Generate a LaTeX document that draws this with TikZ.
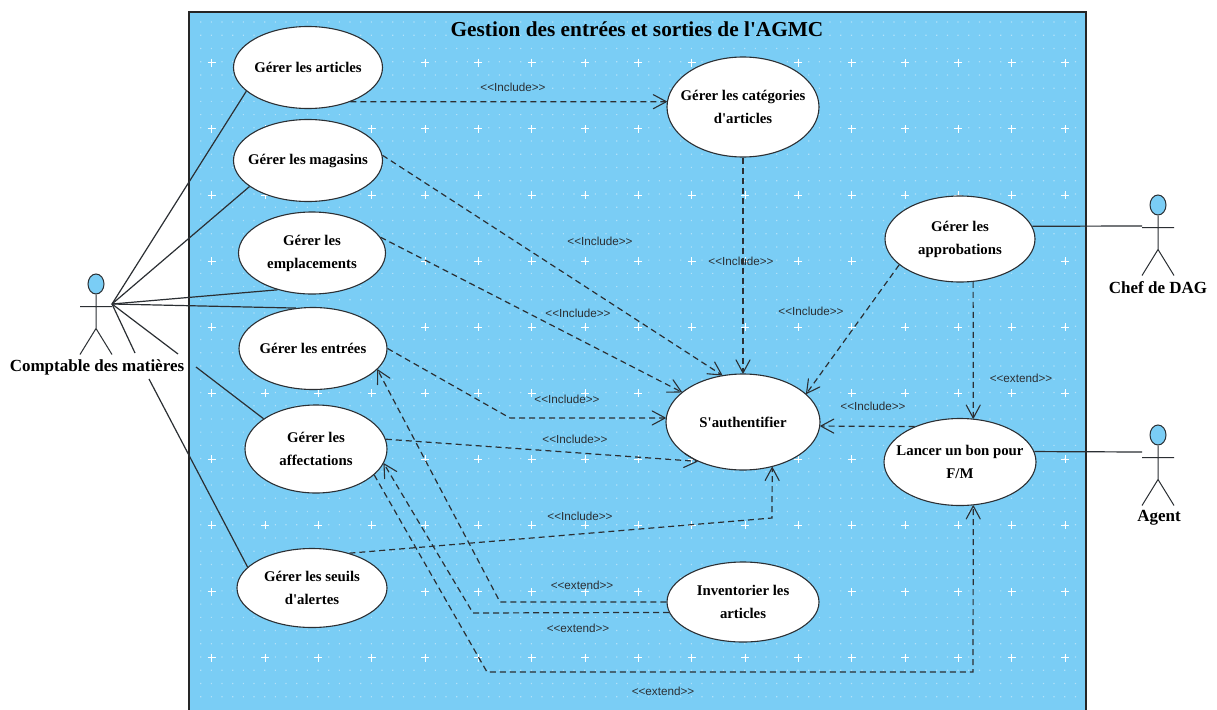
\documentclass[tikz,border=0pt]{standalone}
\usepackage{fontspec}
\newfontfamily\casefont{Liberation Serif}
\newfontfamily\stereofont{Liberation Sans}
\usetikzlibrary{shapes,arrows.meta}
\definecolor{panelblue}{HTML}{7ACDF5}
\definecolor{dotblue}{HTML}{B2E1F9}
\definecolor{traitgris}{HTML}{2B2F33}
\begin{document}
\begin{tikzpicture}[x=1pt,y=-1pt]
\tikzstyle{usecase}=[
  ellipse,
  draw=traitgris,
  fill=white,
  line width=1.1pt,
  align=center,
  inner xsep=-20pt,
  inner ysep=-4pt,
  font=\casefont\bfseries\fontsize{14.8}{23}\selectfont ]
\tikzstyle{acteur}=[font=\casefont\bfseries\fontsize{17}{18}\selectfont]
\tikzstyle{stereo}=[font=\stereofont\fontsize{11.7}{12}\selectfont,text=traitgris,inner sep=0pt]
\tikzstyle{assoc}=[traitgris,line width=1.2pt]
\tikzstyle{dep}=[traitgris,line width=1.2pt,dash pattern=on 6pt off 4pt,
  -{Straight Barb[length=13pt,width=14pt,line width=1.1pt,round]}]
\useasboundingbox (0,0) rectangle (1217,709);
% panel with its dots
\fill[white] (0,0) rectangle (1217,709);
\draw[fill=panelblue,draw=black!85,line width=1.2pt] (189,12) rectangle (1086,715);
\fill[dotblue] \foreach \i in {0,...,82}{\foreach \j in {0,...,51}{
  ({200.7+10.667*\i-0.6},{22+13.23*\j-0.6}) rectangle ++(1.2,1.2)}};
\foreach \i in {0,...,16}{\foreach \j in {0,...,9}{
  \draw[white,line width=.8pt] ({211.7+53.33*\i-4},{62.7+66.1*\j}) -- ++(8,0)
    ({211.7+53.33*\i},{62.7+66.1*\j-4}) -- ++(0,8);}}
\node[usecase,minimum width=149pt,minimum height=82pt] (articles) at (308,67.5) {G\'erer les articles};
\node[usecase,minimum width=149pt,minimum height=82pt] (magasins) at (308,160.5) {G\'erer les magasins};
\node[usecase,minimum width=147pt,minimum height=82pt] (emplacements) at (312,253) {G\'erer les\\emplacements};
\node[usecase,minimum width=148pt,minimum height=82pt] (entrees) at (313,348.5) {G\'erer les entr\'ees};
\node[usecase,minimum width=142pt,minimum height=88pt] (affectations) at (316,449) {G\'erer les\\affectations};
\node[usecase,minimum width=150pt,minimum height=79pt] (seuils) at (312,588) {G\'erer les seuils\\d'alertes};
\node[usecase,minimum width=152pt,minimum height=100pt] (categories) at (743,107) {G\'erer les cat\'egories\\d'articles};
\node[usecase,minimum width=154pt,minimum height=96pt] (auth) at (743,422) {S'authentifier};
\node[usecase,minimum width=150pt,minimum height=86pt] (approbations) at (960,239) {G\'erer les\\approbations};
\node[usecase,minimum width=152pt,minimum height=87pt] (lancer) at (960,462) {Lancer un bon pour\\F/M};
\node[usecase,minimum width=152pt,minimum height=80pt] (inventorier) at (743,602) {Inventorier les\\articles};
\node[inner sep=0pt,font=\casefont\bfseries\fontsize{21.3}{24}\selectfont] (titre) at (637,29.5) {Gestion des entr\'ees et sorties de l'AGMC};
% actors
\foreach \nom/\x/\y in {teteComptable/96/284,teteChef/1158/205,teteAgent/1158/435}{
  \node[ellipse,draw=traitgris,fill=panelblue,line width=1pt,minimum width=16pt,minimum height=20pt,inner sep=0pt] (\nom) at (\x,\y) {};
  \draw[traitgris,line width=1pt] (\nom.south) -- ++(0,34) ++(-16,-22) -- ++(32,0) ++(-16,22) -- ++(-16,26) ++(16,-26) -- ++(16,26);
}
\node[acteur,inner sep=0pt] (comptable) at (97,367) {Comptable des mati\`eres};
\node[acteur,inner sep=0pt] (chef) at (1158,288) {Chef de DAG};
\node[acteur,inner sep=0pt] (agent) at (1159,518) {Agent};
\coordinate (mainComptable) at (112,304);
\coordinate (mainChef) at (1142,226);
\coordinate (mainAgent) at (1142,452);
\coordinate (affectHaut) at (178,354);
\coordinate (affectBas) at (196,367);
\coordinate (seuilsHaut) at (135,353);
\coordinate (seuilsBas) at (149,379);
\draw[assoc] (mainComptable) -- (articles.201);
\draw[assoc] (mainComptable) -- (magasins.204);
\draw[assoc] (mainComptable) -- (emplacements.227);
\draw[assoc] (mainComptable) -- (entrees.113);
\draw[assoc] (mainComptable) -- (affectHaut) (affectBas) -- (affectations.150);
\draw[assoc] (mainComptable) -- (seuilsHaut) (seuilsBas) -- (seuils.162);
\draw[assoc] (approbations.10) -- (mainChef);
\draw[assoc] (lancer.8) -- (mainAgent);
% includes
\coordinate (coinEntrees) at (510,418);
\coordinate (coinSeuils) at (772,518);
\draw[dep] (articles.-39) -- (categories.176);
\draw[dep] (magasins.4) -- (auth.114);
\draw[dep] (emplacements.13) -- (auth.154);
\draw[dep] (entrees.east) -- (coinEntrees) -- (auth.177);
\draw[dep] (affectations.8) -- (auth.221);
\draw[dep] (seuils.43) -- (coinSeuils) -- (auth.-57);
\draw[dep] (categories.south) -- (auth.north);
\draw[dep] (approbations.203) -- (auth.24);
\draw[dep] (lancer.142) -- (auth.-3);
% extends
\coordinate (coinInvA) at (500,602);
\coordinate (coinInvB) at (473,613);
\coordinate (coinBasA) at (487,672);
\coordinate (coinBasB) at (973,672);
\draw[dep] (approbations.-73) -- (lancer.73);
\draw[dep] (inventorier.west) -- (coinInvA) -- (entrees.-18);
\draw[dep] (inventorier.188) -- (coinInvB) -- (affectations.-12);
\draw[dep] (affectations.-24) -- (coinBasA) -- (coinBasB) -- (lancer.-73);
\node[stereo] (incA) at (513,87) {<<Include>>};
\node[stereo] (incB) at (600,241) {<<Include>>};
\node[stereo] (incC) at (578,313) {<<Include>>};
\node[stereo] (incD) at (567,399) {<<Include>>};
\node[stereo] (incE) at (575,439) {<<Include>>};
\node[stereo] (incF) at (580,516) {<<Include>>};
\node[stereo] (incG) at (741,261) {<<Include>>};
\node[stereo] (incH) at (811,311) {<<Include>>};
\node[stereo] (incI) at (873,406) {<<Include>>};
\node[stereo] (extA) at (1021,378) {<<extend>>};
\node[stereo] (extB) at (582,585) {<<extend>>};
\node[stereo] (extC) at (578,628) {<<extend>>};
\node[stereo] (extD) at (663,691) {<<extend>>};
\end{tikzpicture}
\end{document}
